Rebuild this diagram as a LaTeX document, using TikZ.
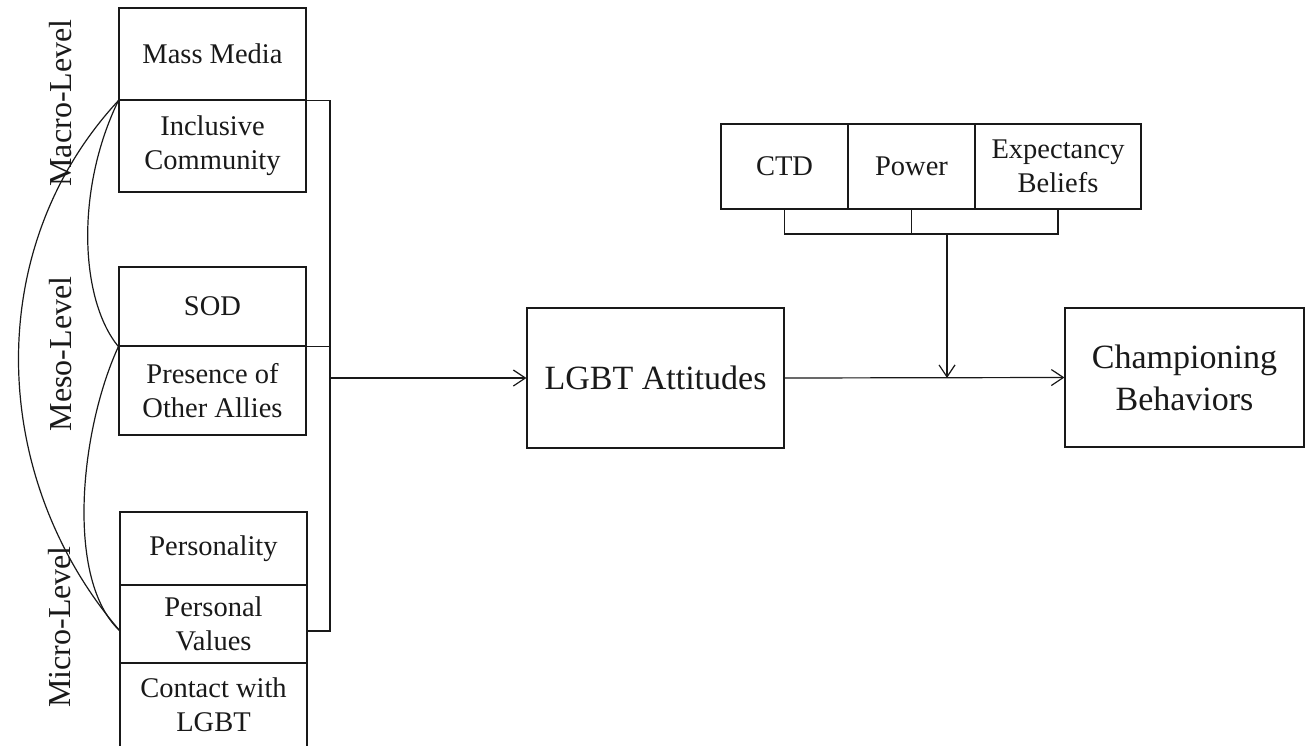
\documentclass[tikz,border=0pt]{standalone}
\usepackage{fontspec}
\setmainfont{Liberation Serif}
\usetikzlibrary{arrows.meta}
\begin{document}
\begin{tikzpicture}[x=1pt,y=-1pt, line width=1.2pt, color={rgb,255:red,25;green,25;blue,25},
  box/.style={draw, rectangle, inner sep=0pt, align=center, font=\fontsize{28.5}{34}\selectfont},
  big/.style={draw, rectangle, inner sep=0pt, align=center, font=\fontsize{34}{42}\selectfont},
  lvl/.style={rotate=90, inner sep=0pt, font=\fontsize{32}{38}\selectfont},
  arr/.style={-{Straight Barb[length=12pt,width=16pt]}}]
\useasboundingbox (0,0) rectangle (1305,746);
% left boxes
\node[box, minimum width=187pt, minimum height=92pt] (mm) at (212.5,54) {Mass Media};
\node[box, minimum width=187pt, minimum height=92pt] (ic) at (212.5,146) {Inclusive\\Community};
\node[box, minimum width=187pt, minimum height=79pt] (sod) at (212.5,306.5) {SOD};
\node[box, minimum width=187pt, minimum height=89pt] (poa) at (212.5,390.5) {Presence of\\Other Allies};
\node[box, minimum width=187pt, minimum height=73pt] (pers) at (213.5,548.5) {Personality};
\node[box, minimum width=187pt, minimum height=78pt] (pv) at (213.5,624) {Personal\\Values};
\node[box, minimum width=187pt, minimum height=84pt] (cw) at (213.5,705) {Contact with\\LGBT};
% level labels
\node[lvl] (macro) at (61,103) {Macro-Level};
\node[lvl] (meso) at (61,354) {Meso-Level};
\node[lvl] (micro) at (60,627) {Micro-Level};
% main boxes
\node[big, minimum width=257pt, minimum height=140pt] (lgbt) at (655.5,378) {LGBT Attitudes};
\node[big, minimum width=239pt, minimum height=139pt] (champ) at (1184.5,377.5) {Championing\\Behaviors};
% moderators
\node[box, minimum width=127pt, minimum height=85pt] (ctd) at (784.5,166.5) {CTD};
\node[box, minimum width=127pt, minimum height=85pt] (pow) at (911.5,166.5) {Power};
\node[box, minimum width=166pt, minimum height=85pt] (exp) at (1058,166.5) {Expectancy\\Beliefs};
% coordinates
\coordinate (bx) at (330,0);
\coordinate (pb) at (307,631);
\coordinate (bo) at (330,378);
\coordinate (cB) at (120,631);
\coordinate (jn) at (947,234);
% left bracket
\draw (mm.south west) -| (bx |- pb) -- (pb);
\draw (sod.south west) -- (sod.south west -| bx);
\draw[arr] (bo) -- (lgbt.west);
% curves
\draw (mm.south west) .. controls (75,190) and (80,300) .. (sod.south west);
\draw (mm.south west) .. controls (-20,250) and (-10,480) .. (cB);
\draw (sod.south west) .. controls (80,430) and (65,580) .. (cB);
% moderator bracket
\draw (ctd.south) -- (ctd.south |- jn) -- (exp.south |- jn) -- (exp.south);
\draw (pow.south) -- (pow.south |- jn);
\draw[arr] (jn) -- (jn |- lgbt.east);
\draw[arr] (lgbt.east) -- (champ.west);
\end{tikzpicture}
\end{document}
